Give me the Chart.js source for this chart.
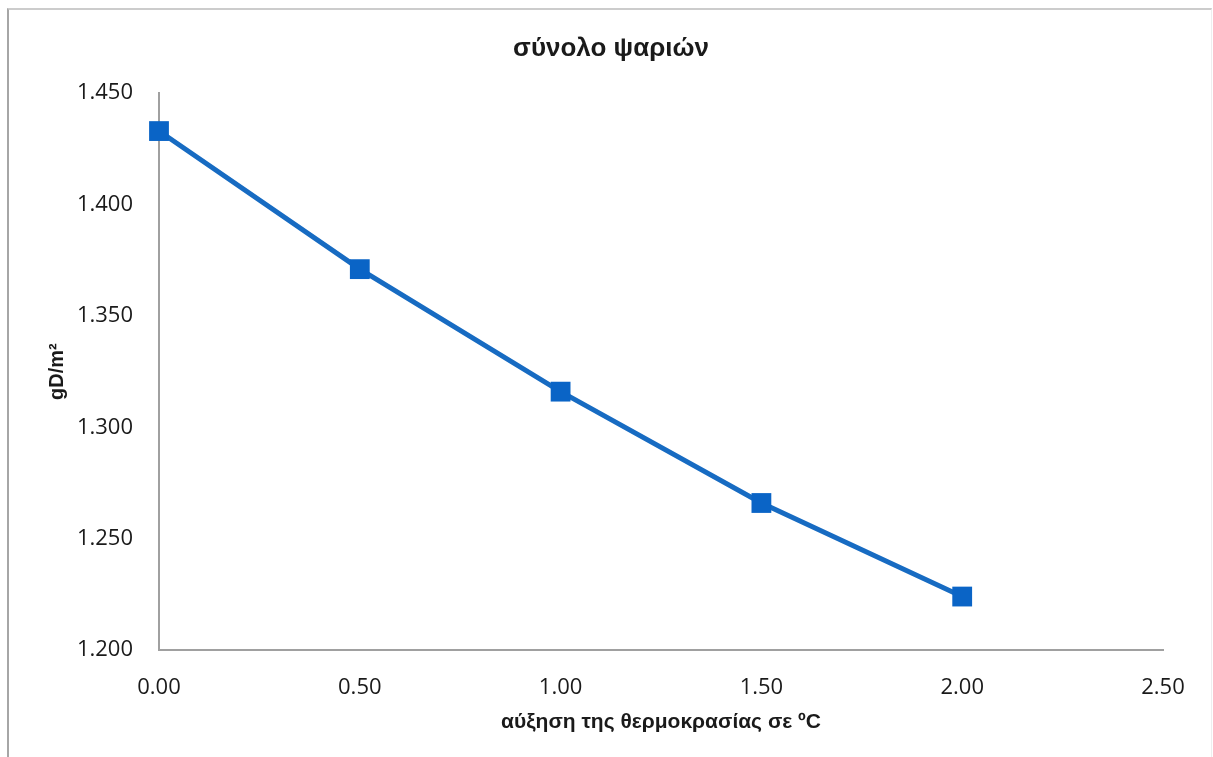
<!DOCTYPE html>
<html>
<head>
<meta charset="utf-8">
<script src="https://cdn.jsdelivr.net/npm/chart.js@4/dist/chart.umd.min.js"></script>
<style>
  html, body { margin: 0; padding: 0; background: #fff; }
  #wrap { position: relative; width: 1213px; height: 757px; }
  #frame {
    position: absolute; left: 7px; top: 8px; right: 1px; bottom: -2px;
    border-left: 2px solid #a6a6a6; border-top: 2px solid #cccccc; border-right: 1px solid #eeeeee;
    pointer-events: none;
  }
</style>
</head>
<body>
<div id="wrap">
  <canvas id="chart" width="1213" height="757"></canvas>
  <div id="frame"></div>
</div>
<script>
const TITLE = 'σύνολο ψαριών';
const X_TITLE = 'αύξηση της θερμοκρασίας σε ºC';
const Y_TITLE = 'gD/m²';

const tempRise = [0.0, 0.5, 1.0, 1.5, 2.0];
const biomass = [1.433, 1.371, 1.316, 1.266, 1.224];

const BLUE = '#0a64c6';
const AXIS = '#a0a0a0';

const points = tempRise.map((x, i) => ({ x, y: biomass[i] }));

const ctx = document.getElementById('chart').getContext('2d');
new Chart(ctx, {
  type: 'line',
  data: {
    datasets: [{
      label: TITLE,
      data: points,
      borderColor: '#176bc2',
      backgroundColor: BLUE,
      borderWidth: 5,
      tension: 0,
      clip: false,
      pointStyle: 'rect',
      pointRadius: 14,
      pointBorderWidth: 0,
      pointBackgroundColor: BLUE,
    }],
  },
  options: {
    responsive: false,
    animation: false,
    // left padding pushes the chart title's centre to where the original has it
    layout: { padding: { left: 59, right: 50, top: 10, bottom: 0 } },
    scales: {
      x: {
        type: 'linear',
        min: 0,
        max: 2.5,
        grid: { display: false, drawTicks: false },
        border: { display: true, color: AXIS, width: 2 },
        ticks: {
          stepSize: 0.5,
          padding: 25,
          color: '#1a1a1a',
          font: { family: 'Open Sans', size: 22 },
          callback: v => Number(v).toFixed(2),
        },
        title: {
          display: true,
          text: X_TITLE,
          color: '#1a1a1a',
          font: { family: 'Liberation Sans', size: 21, weight: 'bold' },
          padding: { top: 0, bottom: 22 },
        },
        afterFit(scale) { scale.height = 107; },
      },
      y: {
        type: 'linear',
        min: 1.2,
        max: 1.45,
        grid: { display: false, drawTicks: false },
        border: { display: true, color: AXIS, width: 2 },
        ticks: {
          stepSize: 0.05,
          padding: 26,
          color: '#1a1a1a',
          font: { family: 'Open Sans', size: 22 },
          callback: v => Number(v).toFixed(3),
        },
        title: {
          display: true,
          text: Y_TITLE,
          color: '#1a1a1a',
          font: { family: 'Liberation Sans', size: 20, weight: 'bold' },
          padding: { top: -14, bottom: 0 },
        },
        afterFit(scale) { scale.width = 100; },
      },
    },
    plugins: {
      legend: { display: false },
      tooltip: { enabled: false },
      title: {
        display: true,
        text: TITLE,
        color: '#1a1a1a',
        font: { family: 'Liberation Sans', size: 26, weight: 'bold' },
        padding: { top: 23, bottom: 29 },
      },
    },
  },
});
</script>
</body>
</html>
